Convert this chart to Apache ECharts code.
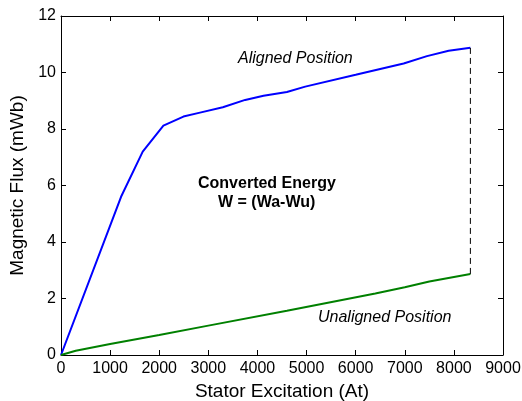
<!DOCTYPE html>
<html><head><meta charset="utf-8">
<script src="https://cdn.jsdelivr.net/npm/echarts@6/dist/echarts.min.js"></script>
<style>html,body{margin:0;padding:0;background:#fff}#c{width:522px;height:401px}</style>
</head><body><div id="c"></div>
<script>
var alignedX = [0, 1223, 1664, 2085, 2493, 2830, 3295, 3750, 4124, 4600, 4973, 6000, 6977, 7452, 7894, 8336];
var alignedY = [0, 5.6, 7.2, 8.12, 8.44, 8.58, 8.77, 9.03, 9.18, 9.31, 9.5, 9.92, 10.32, 10.58, 10.77, 10.88];
var unalignedX = [0, 300, 1000, 2000, 3000, 4600, 6400, 7000, 7500, 8336];
var unalignedY = [0, 0.15, 0.39, 0.71, 1.04, 1.57, 2.18, 2.4, 2.6, 2.87];
var xTicks = [0, 1000, 2000, 3000, 4000, 5000, 6000, 7000, 8000, 9000];
var yTicks = [0, 2, 4, 6, 8, 10, 12];

function pairs(xs, ys){ return xs.map(function(x,i){return [x, ys[i]];}); }
var last = alignedX.length - 1, lastU = unalignedX.length - 1;
var dashData = [[alignedX[last], unalignedY[lastU]], [alignedX[last], alignedY[last]]];

var font = 'Liberation Sans, Arial, sans-serif';
var chart = echarts.init(document.getElementById('c'));
var axisCommon = {
  axisLine: {show: true, onZero: false, lineStyle: {color: '#000', width: 1}},
  axisTick: {show: true, inside: true, length: 5, lineStyle: {color: '#000'}},
  splitLine: {show: false}
};
chart.setOption({
  animation: false,
  grid: {left: 61, right: 19, top: 16, bottom: 46, containLabel: false, outerBoundsMode: 'none'},
  xAxis: [
    Object.assign({type: 'value', min: xTicks[0], max: xTicks[xTicks.length-1], interval: xTicks[1]-xTicks[0],
      name: 'Stator Excitation (At)', nameLocation: 'middle', nameGap: 22,
      nameTextStyle: {fontFamily: font, fontSize: 19, color: '#000'},
      axisLabel: {fontFamily: font, fontSize: 16, color: '#000', margin: 6, formatter: function(v){return String(v);}}}, axisCommon),
    Object.assign({type: 'value', position: 'top', min: xTicks[0], max: xTicks[xTicks.length-1], interval: xTicks[1]-xTicks[0],
      axisLabel: {show: false}}, axisCommon)
  ],
  yAxis: [
    Object.assign({type: 'value', min: yTicks[0], max: yTicks[yTicks.length-1], interval: yTicks[1]-yTicks[0],
      name: 'Magnetic Flux (mWb)', nameLocation: 'middle', nameGap: 30,
      nameTextStyle: {fontFamily: font, fontSize: 19, color: '#000'},
      axisLabel: {fontFamily: font, fontSize: 16, color: '#000', margin: 5}}, axisCommon),
    Object.assign({type: 'value', position: 'right', min: yTicks[0], max: yTicks[yTicks.length-1], interval: yTicks[1]-yTicks[0],
      axisLabel: {show: false}}, axisCommon)
  ],
  series: [
    {type: 'line', data: pairs(alignedX, alignedY), showSymbol: false,
      lineStyle: {color: '#0000ff', width: 2}},
    {type: 'line', data: pairs(unalignedX, unalignedY), showSymbol: false,
      lineStyle: {color: '#008000', width: 2}},
    {type: 'line', data: dashData, showSymbol: false,
      lineStyle: {color: '#000', width: 1, type: [6, 4]}}
  ],
  graphic: [
    {type: 'text', left: 238, top: 51, style: {text: 'Aligned Position', font: 'italic 16px ' + font, fill: '#000'}},
    {type: 'text', left: 198, top: 176, style: {text: 'Converted Energy', font: 'bold 16px ' + font, fill: '#000'}},
    {type: 'text', left: 218, top: 195, style: {text: 'W = (Wa-Wu)', font: 'bold 16px ' + font, fill: '#000'}},
    {type: 'text', left: 318, top: 310, style: {text: 'Unaligned Position', font: 'italic 16px ' + font, fill: '#000'}}
  ]
});
</script></body></html>
